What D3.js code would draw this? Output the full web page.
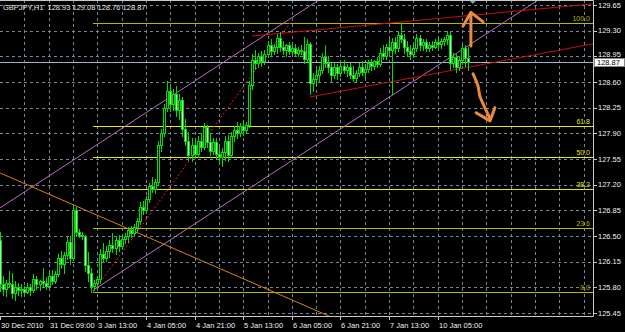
<!DOCTYPE html>
<html>
<head>
<meta charset="utf-8">
<script src="https://cdn.jsdelivr.net/npm/d3@7"></script>
<style>
  html, body { margin: 0; padding: 0; background: #000; }
  svg { display: block; font-family: "Liberation Sans", Arial, sans-serif; }
</style>
</head>
<body>
<svg id="chart" width="625" height="332"></svg>
<script>
// GBPJPY H1 candles, 30 Dec 2010 - 10 Jan 2011
const symbol = 'GBPJPY,H1';

const opens = [
  126.45,125.85,125.78,125.86,125.84,125.72,125.80,125.76,125.78,125.74,
  125.80,125.76,125.92,125.84,125.88,125.86,125.82,125.96,125.88,125.98,
  126.20,126.12,126.24,126.42,126.20,126.85,126.56,126.52,126.50,126.10,
  126.00,125.82,125.86,125.92,126.26,126.20,126.30,126.38,126.34,126.44,
  126.36,126.46,126.50,126.58,126.54,126.62,126.70,126.90,126.86,127.00,
  127.18,127.14,127.24,127.74,127.90,128.24,128.48,128.30,128.44,128.22,
  128.36,127.96,127.80,127.60,127.74,127.62,127.80,127.72,127.98,127.78,
  127.66,127.78,127.62,127.58,127.64,127.80,127.60,127.86,127.94,127.90,
  128.00,127.94,128.02,128.56,128.90,128.86,128.96,128.88,128.98,129.10,
  129.02,129.08,129.20,129.08,129.04,129.10,129.02,129.06,129.00,129.04,
  129.02,128.92,129.12,128.58,128.64,128.70,128.76,128.94,128.86,128.80,
  128.70,128.80,128.72,128.82,128.76,128.80,128.70,128.66,128.72,128.80,
  128.74,128.78,128.86,128.82,128.88,128.84,129.00,128.96,129.08,129.04,
  129.14,129.06,129.24,129.18,129.08,129.02,128.98,129.06,129.20,129.10,
  129.14,129.06,129.10,129.08,129.14,129.12,129.16,129.18,129.24,128.86,
  128.94,128.80,128.90,129.06,128.93
];
const highs = [
  126.55,125.95,125.90,126.02,126.00,125.88,125.86,125.84,125.82,125.86,
  125.84,125.98,125.96,125.90,126.06,125.94,126.00,126.04,126.02,126.26,
  126.30,126.28,126.48,126.50,126.92,126.90,126.60,126.56,126.52,126.28,
  126.06,125.90,125.96,126.32,126.40,126.36,126.44,126.54,126.50,126.52,
  126.50,126.54,126.62,126.64,126.66,126.74,126.96,126.98,127.04,127.22,
  127.30,127.28,127.80,127.96,128.30,128.62,128.56,128.50,128.54,128.44,
  128.40,128.10,127.92,127.84,127.80,127.86,127.90,128.04,128.02,127.90,
  127.84,127.84,127.74,127.70,127.86,127.88,127.92,128.00,128.06,128.04,
  128.08,128.06,128.62,128.98,129.04,129.00,129.02,129.04,129.16,129.18,
  129.12,129.26,129.28,129.16,129.12,129.14,129.10,129.12,129.08,129.10,
  129.22,129.18,129.14,128.72,128.78,128.82,129.00,129.10,128.96,128.86,
  128.86,128.84,128.88,128.90,128.84,128.86,128.82,128.76,128.86,128.88,
  128.84,128.90,128.92,128.90,128.94,129.06,129.10,129.12,129.18,129.20,
  129.22,129.30,129.40,129.26,129.16,129.10,129.12,129.26,129.24,129.18,
  129.18,129.14,129.16,129.18,129.22,129.20,129.22,129.30,129.28,129.00,
  128.98,128.96,129.12,129.10,129.08
];
const lows = [
  125.75,125.70,125.68,125.80,125.66,125.63,125.70,125.68,125.70,125.72,
  125.70,125.74,125.78,125.76,125.80,125.78,125.80,125.84,125.86,125.96,
  126.06,126.00,126.18,126.12,126.18,126.50,126.48,126.46,126.02,125.88,
  125.74,125.76,125.80,125.86,126.14,126.16,126.22,126.28,126.26,126.30,
  126.32,126.40,126.42,126.48,126.50,126.56,126.66,126.80,126.82,126.96,
  127.10,127.08,127.20,127.66,127.86,128.20,128.20,128.22,128.14,128.10,
  127.86,127.74,127.54,127.52,127.56,127.58,127.66,127.68,127.72,127.60,
  127.62,127.56,127.50,127.46,127.54,127.52,127.58,127.80,127.84,127.86,
  127.88,127.90,127.98,128.50,128.78,128.80,128.82,128.84,128.94,128.96,
  128.98,129.00,129.02,128.98,128.96,128.98,128.98,128.96,128.96,128.98,
  128.86,128.88,128.44,128.48,128.56,128.60,128.72,128.80,128.74,128.62,
  128.66,128.64,128.68,128.72,128.68,128.66,128.62,128.60,128.68,128.70,
  128.66,128.74,128.76,128.78,128.80,128.82,128.92,128.92,128.98,128.44,
  129.00,129.02,129.14,129.00,128.96,128.92,128.94,129.02,129.04,129.04,
  129.02,129.02,129.04,129.06,129.08,129.06,129.10,129.12,128.78,128.80,
  128.74,128.76,128.84,128.82,128.76
];
const closes = [
  125.85,125.78,125.86,125.84,125.72,125.80,125.76,125.78,125.74,125.80,
  125.76,125.92,125.84,125.88,125.86,125.82,125.96,125.88,125.98,126.20,
  126.12,126.24,126.42,126.20,126.85,126.56,126.52,126.50,126.10,126.00,
  125.82,125.86,125.92,126.26,126.20,126.30,126.38,126.34,126.44,126.36,
  126.46,126.50,126.58,126.54,126.62,126.70,126.90,126.86,127.00,127.18,
  127.14,127.24,127.74,127.90,128.24,128.48,128.30,128.44,128.22,128.36,
  127.96,127.80,127.60,127.74,127.62,127.80,127.72,127.98,127.78,127.66,
  127.78,127.62,127.58,127.64,127.80,127.60,127.86,127.94,127.90,128.00,
  127.94,128.02,128.56,128.90,128.86,128.96,128.88,128.98,129.10,129.02,
  129.08,129.20,129.08,129.04,129.10,129.02,129.06,129.00,129.04,129.02,
  128.92,129.12,128.58,128.64,128.70,128.76,128.94,128.86,128.80,128.70,
  128.80,128.72,128.82,128.76,128.80,128.70,128.66,128.72,128.80,128.74,
  128.78,128.86,128.82,128.88,128.84,129.00,128.96,129.08,129.04,129.14,
  129.06,129.24,129.18,129.08,129.02,128.98,129.06,129.20,129.10,129.14,
  129.06,129.10,129.08,129.14,129.12,129.16,129.18,129.24,128.86,128.94,
  128.80,128.90,129.06,128.93,128.87
];

const priceTicks = [129.65, 129.30, 128.95, 128.60, 128.25, 127.90, 127.55,
                    127.20, 126.85, 126.50, 126.15, 125.80, 125.45];
const timeTickBars = [0, 16, 32, 48, 64, 80, 96, 112, 128, 144];
const timeTickLabels = ['30 Dec 2010', '31 Dec 09:00', '3 Jan 13:00', '4 Jan 05:00',
  '4 Jan 21:00', '5 Jan 13:00', '6 Jan 05:00', '6 Jan 21:00', '7 Jan 13:00', '10 Jan 05:00'];

// drawn objects, in [bar, price]
const fibAnchors = [[30.6, 125.737], [95.4, 129.405]];
const fibLevels = [0, 23.6, 38.2, 50, 61.8, 100];
const channelBase = [[30.6, 125.76], [131.6, 128.49]];
const channelWidth = 1.95;
const orangeLine = [[0, 127.36], [98.7, 125.58]];
const redUpper = [[82.9, 129.227], [187.5, 129.636]];
const redLower = [[102, 128.396], [184.2, 129.036]];
const bid = 128.87;
const arrowUp = [[[154.9, 129.09], [154.9, 129.53]],
                 [[152.3, 129.36], [154.9, 129.55], [158.9, 129.42]]];
const arrowDown = [[[155.6, 128.71], [157.2, 128.55], [157.9, 128.40], [159.5, 128.25], [161.2, 128.10]],
                   [[156.6, 128.18], [161.2, 128.07], [162.8, 128.25]]];

const svg = d3.select('#chart');
const plotR = 593, plotB = 316;
const gridColor = '#75879a';

const x = d3.scaleLinear().domain([0, 195]).range([0, 592.8]);
const y = d3.scaleLinear().domain([125.45, 129.65]).range([313, 5]);

svg.append('rect').attr('width', 625).attr('height', 332).attr('fill', '#000');

svg.append('defs').append('clipPath').attr('id', 'plot')
  .append('rect').attr('x', 0).attr('y', 0).attr('width', plotR).attr('height', plotB);

const plot = svg.append('g').attr('clip-path', 'url(#plot)');

// grid
const gridBars = d3.range(8, 196, 8);
plot.selectAll('.vg').data(gridBars).enter().append('line')
  .attr('x1', d => Math.round(x(d)) + 0.5).attr('x2', d => Math.round(x(d)) + 0.5)
  .attr('y1', 0).attr('y2', plotB)
  .attr('stroke', gridColor).attr('stroke-dasharray', '3,3');
plot.selectAll('.hg').data(priceTicks).enter().append('line')
  .attr('x1', 0).attr('x2', plotR)
  .attr('y1', d => Math.round(y(d)) + 0.5).attr('y2', d => Math.round(y(d)) + 0.5)
  .attr('stroke', gridColor).attr('stroke-dasharray', '3,3');

// helpers for drawn lines in data units
const at = (p, b) => p[0][1] + (p[1][1] - p[0][1]) * (b - p[0][0]) / (p[1][0] - p[0][0]);
function ray(pts, fromBar, toBar, color, dash) {
  plot.append('line')
    .attr('x1', x(fromBar)).attr('y1', y(at(pts, fromBar)))
    .attr('x2', x(toBar)).attr('y2', y(at(pts, toBar)))
    .attr('stroke', color).attr('stroke-width', 1)
    .attr('stroke-dasharray', dash || null);
}

// bid line
plot.append('line')
  .attr('x1', 0).attr('x2', plotR)
  .attr('y1', Math.round(y(bid)) + 0.5).attr('y2', Math.round(y(bid)) + 0.5)
  .attr('stroke', '#a3b3c3');

// fibonacci
const fibLo = fibAnchors[0][1], fibHi = fibAnchors[1][1];
const fibY = d => Math.round(y(fibLo + (fibHi - fibLo) * d / 100)) + 0.5;
const fibColor = d => (d === 0 || d === 100 || d === 23.6) ? '#b8b800' : '#eaea00';
plot.selectAll('.fib').data(fibLevels).enter().append('line')
  .attr('x1', x(fibAnchors[0][0])).attr('x2', plotR)
  .attr('y1', fibY).attr('y2', fibY)
  .attr('stroke', fibColor).attr('stroke-width', 1.2);
plot.selectAll('.fibt').data(fibLevels).enter().append('text')
  .attr('x', plotR - 3)
  .attr('y', d => fibY(d) - 2.5)
  .attr('text-anchor', 'end')
  .attr('fill', fibColor)
  .style('font-size', '7px')
  .text(d => d.toFixed(1));
plot.append('line')
  .attr('x1', x(fibAnchors[0][0])).attr('y1', y(fibLo))
  .attr('x2', x(fibAnchors[1][0])).attr('y2', y(fibHi))
  .attr('stroke', '#f02020').attr('stroke-dasharray', '2,2');

// equidistant channel
const channelTop = channelBase.map(d => [d[0], d[1] + channelWidth]);
ray(channelBase, channelBase[0][0], 200, '#b870c0');
ray(channelTop, -1, 200, '#b870c0');

// trend lines
ray(orangeLine, -1, 130, '#d8801c');
ray(redUpper, redUpper[0][0], 200, '#c80e0e');
ray(redLower, redLower[0][0], 200, '#c80e0e');

// candles
const bars = d3.range(closes.length);
const cx = i => Math.round(x(i));
plot.selectAll('.wick').data(bars).enter().append('line')
  .attr('x1', i => cx(i) + 0.5).attr('x2', i => cx(i) + 0.5)
  .attr('y1', i => Math.round(y(highs[i]))).attr('y2', i => Math.round(y(lows[i])) + 1)
  .attr('stroke', '#00e000');
plot.selectAll('.body').data(bars).enter().append('rect')
  .attr('x', i => cx(i) - 0.5)
  .attr('y', i => Math.round(y(Math.max(opens[i], closes[i]))) + 0.5)
  .attr('width', 2)
  .attr('height', i => Math.max(1, Math.round(y(Math.min(opens[i], closes[i]))) - Math.round(y(Math.max(opens[i], closes[i])))))
  .attr('fill', i => closes[i] < opens[i] ? '#b8ffb8' : '#000')
  .attr('stroke', '#00e000');

// hand drawn arrows (shafts smooth, heads straight)
const smooth = d3.line().x(d => x(d[0])).y(d => y(d[1])).curve(d3.curveCatmullRom);
const straight = d3.line().x(d => x(d[0])).y(d => y(d[1]));
[[arrowUp[0], smooth], [arrowUp[1], straight], [arrowDown[0], smooth], [arrowDown[1], straight]]
  .forEach(([seg, gen]) => {
    plot.append('path').attr('d', gen(seg))
      .attr('fill', 'none').attr('stroke', '#ea8a40')
      .attr('stroke-width', 3).attr('stroke-linecap', 'round').attr('stroke-linejoin', 'round');
  });

// chart shift marker
const sx = x(closes.length + 0.5);
svg.append('path').attr('d', `M${sx - 4},0 L${sx + 4},0 L${sx},4 Z`).attr('fill', '#8a9aa8');

// frame: top, right, bottom
svg.append('path')
  .attr('d', `M0,0.5 H${plotR + 0.5} V${plotB + 0.5} H0`)
  .attr('fill', 'none').attr('stroke', '#c8c8c8');

// price axis
svg.selectAll('.pt').data(priceTicks).enter().append('line')
  .attr('x1', plotR + 1).attr('x2', plotR + 4)
  .attr('y1', d => Math.round(y(d)) + 0.5).attr('y2', d => Math.round(y(d)) + 0.5)
  .attr('stroke', '#c8c8c8');
svg.selectAll('.pl').data(priceTicks).enter().append('text')
  .attr('x', plotR + 5).attr('y', d => y(d) - (d === 128.95 ? 1.5 : 0))
  .attr('dominant-baseline', 'central')
  .attr('fill', '#f0f0f0').style('font-size', '7.5px')
  .text(d => d.toFixed(2));

// bid label
const by = Math.round(y(bid));
svg.append('rect').attr('x', plotR + 1.5).attr('y', by - 3.5).attr('width', 30).attr('height', 8)
  .attr('fill', '#fff').attr('stroke', '#888');
svg.append('text').attr('x', plotR + 4).attr('y', by + 0.5)
  .attr('dominant-baseline', 'central').attr('fill', '#000').style('font-size', '7.5px')
  .text(bid.toFixed(2));

// time axis
svg.selectAll('.tt').data(timeTickBars).enter().append('line')
  .attr('x1', d => Math.round(x(d)) + 0.5).attr('x2', d => Math.round(x(d)) + 0.5)
  .attr('y1', plotB + 1).attr('y2', plotB + 4)
  .attr('stroke', '#c8c8c8');
svg.selectAll('.tl').data(timeTickBars).enter().append('text')
  .attr('x', d => Math.round(x(d)) + 1).attr('y', 328)
  .attr('fill', '#f0f0f0').style('font-size', '7.5px')
  .text((d, i) => timeTickLabels[i]);

// header
const last = closes.length - 1;
svg.append('text').attr('x', 3).attr('y', 10)
  .attr('fill', '#e8e8e8').style('font-size', '7.5px').style('white-space', 'pre')
  .text(`${symbol}  ${opens[last].toFixed(2)} ${highs[last].toFixed(2)} ${lows[last].toFixed(2)} ${closes[last].toFixed(2)}`);
</script>
</body>
</html>
